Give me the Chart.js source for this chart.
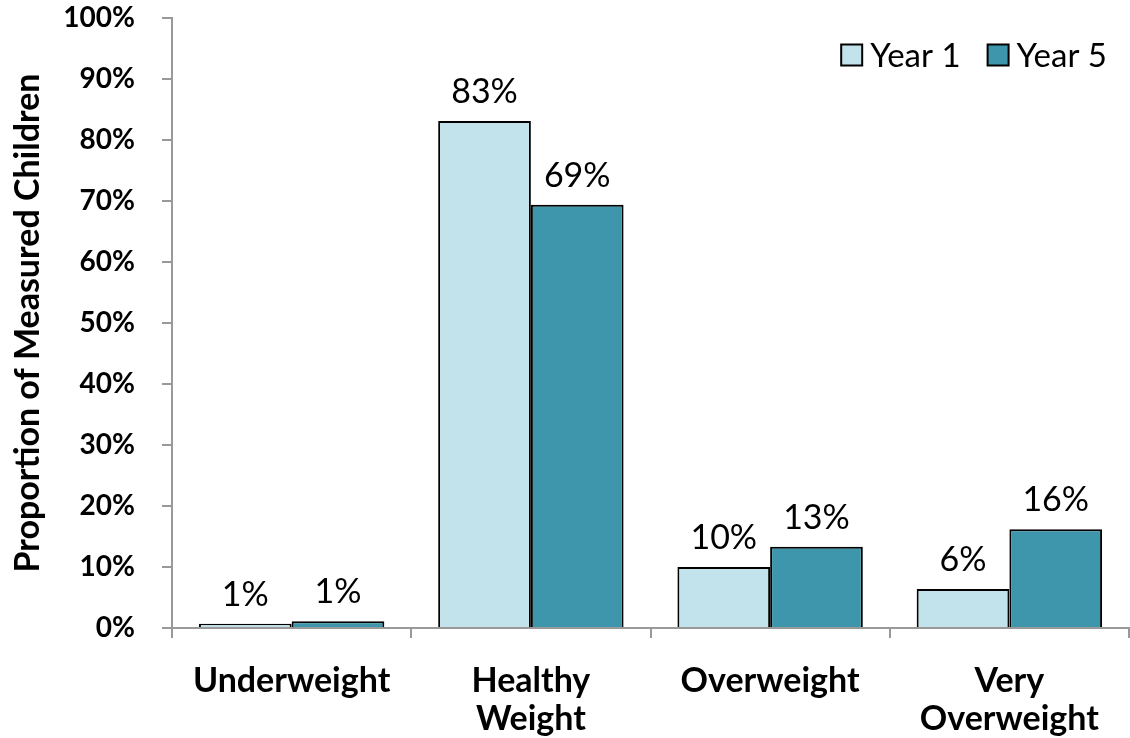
<!DOCTYPE html>
<html>
<head>
<meta charset="utf-8">
<script src="https://cdn.jsdelivr.net/npm/chart.js@4/dist/chart.umd.min.js"></script>
<style>
  html, body { margin: 0; padding: 0; background: #fff; overflow: hidden; }
  #wrap { width: 1130px; height: 738px; }
</style>
</head>
<body>
<div id="wrap"><canvas id="weightChart"></canvas></div>
<script>
// categories and values (percent of measured children)
const categories = ['Underweight', ['Healthy', 'Weight'], 'Overweight', ['Very', 'Overweight']];
const year1 = [0.7, 83.1, 10.0, 6.4];
const year5 = [1.1, 69.4, 13.3, 16.2];
const seriesNames = ['Year 1', 'Year 5'];
const seriesColors = ['#c3e3ec', '#3d96ab'];

const FONT = 'Lato, "Open Sans", sans-serif';

// value labels above each bar
const valueLabels = {
    id: 'valueLabels',
    afterDatasetsDraw(chart) {
        const ctx = chart.ctx;
        ctx.save();
        ctx.font = '34px ' + FONT;
        ctx.fillStyle = '#000';
        ctx.textAlign = 'center';
        ctx.textBaseline = 'bottom';
        chart.data.datasets.forEach((ds, i) => {
            chart.getDatasetMeta(i).data.forEach((bar, j) => {
                ctx.fillText(Math.round(ds.data[j]) + '%', bar.x, bar.y - 12);
            });
        });
        ctx.restore();
    }
};

// legend in the top-right corner of the plot area
const cornerLegend = {
    id: 'cornerLegend',
    afterDraw(chart) {
        const ctx = chart.ctx;
        const area = chart.chartArea;
        ctx.save();
        ctx.font = '33px ' + FONT;
        ctx.textBaseline = 'middle';
        ctx.textAlign = 'left';
        const box = 21, gap = 8, itemGap = 27;
        const cy = area.top + 37;
        let x = area.right - 22;
        const items = chart.data.datasets.map(ds => ({ label: ds.label, color: ds.backgroundColor }));
        for (let i = items.length - 1; i >= 0; i--) {
            const w = ctx.measureText(items[i].label).width;
            x -= w;
            ctx.fillStyle = '#000';
            ctx.fillText(items[i].label, x, cy + 1);
            x -= gap + box;
            ctx.fillStyle = items[i].color;
            ctx.fillRect(x, cy - box / 2, box, box);
            ctx.lineWidth = 2;
            ctx.strokeStyle = '#000';
            ctx.strokeRect(x, cy - box / 2, box, box);
            x -= itemGap;
        }
        ctx.restore();
    }
};

new Chart(document.getElementById('weightChart'), {
    type: 'bar',
    data: {
        labels: categories,
        datasets: seriesNames.map((name, i) => ({
            label: name,
            data: i === 0 ? year1 : year5,
            backgroundColor: seriesColors[i],
            borderColor: '#000',
            borderWidth: 2,
            borderSkipped: 'bottom'
        }))
    },
    options: {
        responsive: true,
        maintainAspectRatio: false,
        animation: false,
        datasets: {
            bar: { categoryPercentage: 0.775, barPercentage: 1.0 }
        },
        layout: { padding: { top: 18, right: 1, left: 8, bottom: 0 } },
        scales: {
            x: {
                grid: { drawOnChartArea: false, color: '#999', tickLength: 10, lineWidth: 2 },
                border: { color: '#999', width: 2 },
                ticks: {
                    color: '#000',
                    font: { family: FONT, size: 34, weight: 'bold', lineHeight: 1.12 },
                    padding: 24,
                    maxRotation: 0
                },
                // fixed height so the plot bottom sits where the original does
                afterFit: s => { s.height = 110; }
            },
            y: {
                min: 0,
                max: 100,
                grid: { drawOnChartArea: false, color: '#999', tickLength: 10, lineWidth: 2 },
                border: { color: '#999', width: 2 },
                ticks: {
                    stepSize: 10,
                    color: '#000',
                    font: { family: FONT, size: 28, weight: 'bold' },
                    padding: 27,
                    callback: v => v + '%'
                },
                title: {
                    display: true,
                    text: 'Proportion of Measured Children',
                    color: '#000',
                    font: { family: FONT, size: 34, weight: 'bold' },
                    padding: { top: 0, bottom: 8 }
                },
                afterFit: s => {
                    s.width = 164;
                    s.paddingTop = 0;
                    s.paddingBottom = 0;
                }
            }
        },
        plugins: {
            legend: { display: false },
            tooltip: { enabled: false }
        }
    },
    plugins: [valueLabels, cornerLegend]
});
</script>
</body>
</html>
